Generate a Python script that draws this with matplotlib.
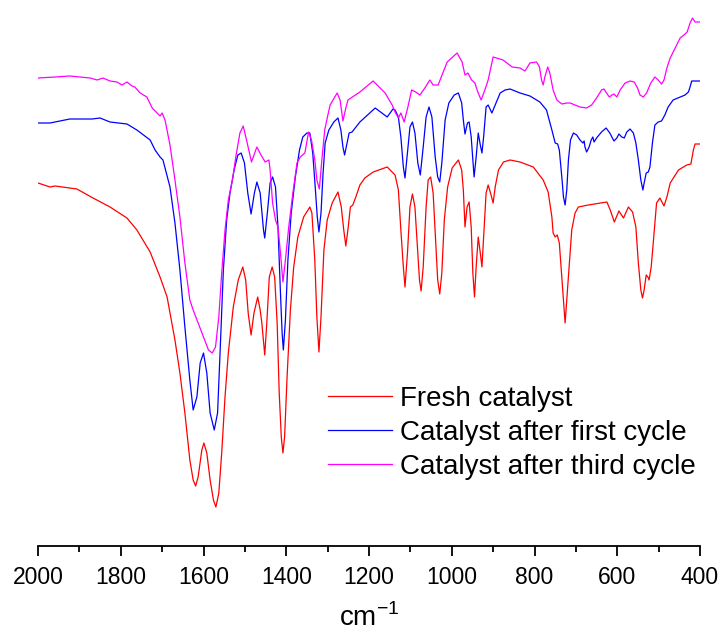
import numpy as np
import matplotlib
matplotlib.use("Agg")
import matplotlib.pyplot as plt
from matplotlib.ticker import MultipleLocator

plt.rcParams['font.family'] = ['Liberation Sans', 'DejaVu Sans']
plt.rcParams['mathtext.fontset'] = 'custom'
plt.rcParams['mathtext.rm'] = 'Liberation Sans'

# wavenumber (cm-1) and transmittance (arbitrary units)
fresh_wn = [2000, 1971, 1959, 1906, 1867, 1826, 1785, 1761, 1729, 1705, 1688, 1669,
            1657, 1645, 1633, 1625, 1619, 1613, 1604, 1599, 1592, 1584, 1576, 1570,
            1563, 1556, 1548, 1540, 1528, 1516, 1505, 1498, 1492, 1485, 1478, 1469,
            1463, 1459, 1452, 1447, 1441, 1434, 1428, 1422, 1417, 1412, 1408, 1404,
            1398, 1390, 1382, 1372, 1358, 1343, 1338, 1331, 1326, 1321, 1316, 1309,
            1301, 1289, 1275, 1267, 1261, 1256, 1251, 1245, 1239, 1231, 1222, 1210,
            1190, 1156, 1137, 1129, 1123, 1117, 1113, 1107, 1101, 1095, 1089, 1082,
            1078, 1074, 1069, 1062, 1057, 1051, 1045, 1039, 1034, 1029, 1024, 1018,
            1010, 999, 984, 976, 972, 968, 963, 958, 953, 949, 945, 941, 936, 931,
            927, 923, 917, 912, 905, 900, 895, 887, 875, 859, 835, 803, 779, 767,
            758, 755, 750, 745, 740, 734, 726, 718, 710, 702, 694, 670, 625, 617,
            607, 596, 585, 573, 563, 555, 549, 543, 539, 535, 530, 526, 523, 518,
            513, 505, 497, 487, 480, 472, 452, 432, 422, 416, 412, 400]
fresh_t = [363, 359, 360, 357, 348, 339, 328, 316, 294, 269, 249, 206,
           173, 133, 86, 66, 60, 69, 96, 103, 93, 66, 46, 39,
           53, 93, 149, 193, 239, 266, 279, 266, 233, 211, 233, 249,
           236, 223, 191, 223, 269, 279, 269, 223, 153, 109, 93, 109,
           169, 236, 279, 309, 329, 339, 333, 286, 229, 194, 229, 296,
           326, 343, 354, 339, 316, 300, 316, 339, 341, 350, 361, 368,
           374, 379, 371, 356, 316, 279, 259, 293, 339, 352, 339, 293,
           266, 255, 279, 339, 366, 369, 353, 306, 266, 252, 273, 326,
           359, 378, 386, 376, 356, 319, 339, 344, 319, 273, 249, 279, 309, 293,
           279, 309, 353, 361, 351, 343, 359, 376, 384, 386, 384, 379, 366, 354,
           329, 313, 309, 311, 303, 269, 223, 269, 316, 333, 339, 341, 344, 336,
           324, 335, 328, 339, 334, 319, 283, 256, 248, 256, 271, 269, 266, 279,
           303, 343, 348, 340, 349, 363, 376, 381, 382, 396, 402, 402]

first_wn = [2000, 1971, 1923, 1869, 1850, 1826, 1785, 1761, 1729, 1717, 1705, 1698,
            1681, 1669, 1657, 1645, 1633, 1625, 1616, 1608, 1600, 1592, 1584, 1574,
            1566, 1560, 1552, 1544, 1536, 1526, 1517, 1509, 1501, 1493, 1485, 1477,
            1471, 1463, 1455, 1452, 1445, 1439, 1433, 1426, 1420, 1414, 1410, 1407,
            1402, 1396, 1388, 1378, 1368, 1360, 1350, 1343, 1336, 1330, 1325, 1321,
            1316, 1311, 1306, 1297, 1285, 1275, 1268, 1263, 1259, 1253, 1248, 1241,
            1222, 1185, 1156, 1142, 1137, 1129, 1123, 1117, 1113, 1107, 1101, 1095,
            1089, 1082, 1076, 1069, 1062, 1055, 1048, 1040, 1034, 1029, 1024, 1016,
            1007, 994, 984, 976, 972, 968, 962, 958, 953, 949, 946, 941, 936, 931,
            927, 923, 917, 912, 903, 895, 883, 871, 859, 835, 811, 787, 771, 758,
            750, 744, 740, 734, 730, 726, 722, 718, 713, 706, 698, 690, 683, 680,
            678, 674, 668, 663, 659, 656, 650, 638, 627, 618, 608, 601, 596, 589,
            583, 577, 569, 561, 555, 549, 543, 538, 535, 530, 525, 521, 515, 509,
            501, 493, 485, 477, 465, 448, 436, 428, 424, 420, 400]
first_t = [423, 423, 427, 427, 428, 424, 422, 416, 406, 396, 389, 386,
           359, 323, 276, 219, 166, 136, 149, 183, 193, 173, 133, 116,
           133, 193, 276, 326, 353, 376, 391, 393, 383, 353, 332, 353,
           364, 353, 316, 308, 336, 363, 369, 359, 319, 253, 213, 196,
           226, 286, 333, 369, 396, 409, 413, 413, 393, 359, 329, 314,
           333, 373, 403, 416, 424, 428, 416, 399, 391, 403, 413, 414,
           424, 438, 429, 437, 436, 429, 409, 379, 368, 393, 419, 424,
           413, 383, 371, 399, 429, 439, 429, 389, 369, 364, 383, 426,
           443, 451, 453, 443, 426, 412, 423, 424, 409, 386, 369, 389, 413, 401,
           393, 409, 439, 441, 433, 441, 453, 456, 457, 453, 450, 444, 436, 416,
           403, 402, 396, 369, 349, 341, 356, 386, 406, 413, 411, 406, 403, 405,
           399, 394, 399, 406, 409, 404, 408, 414, 418, 413, 405, 408, 412, 409,
           408, 414, 417, 413, 403, 386, 366, 356, 363, 373, 374, 379, 403, 421,
           424, 425, 431, 439, 446, 449, 451, 454, 459, 465, 465]

third_wn = [2000, 1959, 1923, 1898, 1874, 1857, 1843, 1826, 1809, 1797, 1785, 1773,
            1766, 1753, 1737, 1724, 1712, 1705, 1700, 1693, 1681, 1669, 1657, 1645,
            1633, 1625, 1613, 1600, 1588, 1579, 1571, 1563, 1556, 1548, 1540, 1530,
            1522, 1512, 1504, 1496, 1484, 1471, 1461, 1451, 1442, 1439, 1433, 1426,
            1420, 1414, 1408, 1402, 1394, 1384, 1374, 1366, 1355, 1346, 1339, 1331,
            1326, 1320, 1314, 1307, 1301, 1294, 1287, 1277, 1270, 1263, 1256, 1251,
            1222, 1190, 1161, 1144, 1137, 1129, 1123, 1115, 1106, 1097, 1087, 1077,
            1065, 1053, 1045, 1033, 1011, 987, 975, 968, 961, 952, 944, 937, 929,
            920, 912, 900, 876, 854, 835, 823, 811, 795, 788, 783, 779, 775, 768,
            763, 755, 746, 734, 722, 714, 702, 690, 674, 662, 650, 638, 632, 626,
            619, 613, 608, 601, 593, 581, 569, 559, 551, 545, 537, 529, 519, 509,
            501, 493, 487, 480, 472, 460, 448, 436, 431, 424, 418, 412, 400]
third_t = [468, 469, 470, 469, 468, 466, 468, 465, 464, 461, 464, 460,
           459, 453, 449, 438, 433, 430, 433, 426, 401, 366, 329, 283,
           246, 236, 223, 209, 196, 193, 199, 229, 273, 316, 346, 366,
           389, 413, 420, 406, 384, 399, 391, 384, 386, 376, 343, 326,
           319, 293, 264, 286, 319, 353, 383, 389, 393, 414, 406, 386,
           366, 357, 386, 416, 428, 441, 446, 453, 446, 425, 438, 446,
           454, 465, 453, 441, 434, 428, 433, 424, 439, 456, 454, 451,
           458, 466, 461, 461, 484, 493, 484, 471, 473, 466, 463, 454, 446,
           456, 466, 489, 486, 479, 478, 475, 483, 484, 479, 466, 461, 469, 479,
           473, 456, 446, 442, 443, 443, 441, 439, 438, 441, 448, 456, 457, 453,
           449, 451, 452, 449, 456, 463, 465, 464, 458, 451, 449, 453, 463, 469,
           466, 462, 466, 478, 488, 498, 508, 512, 514, 523, 528, 524, 524]

labels = ['Fresh catalyst', 'Catalyst after first cycle', 'Catalyst after third cycle']
colors = ['#ff0000', '#0000ff', '#ff00ff']

fig = plt.figure(figsize=(7.24, 6.33), dpi=100)
fig.patch.set_facecolor('white')
ax = fig.add_axes([38 / 724, 87 / 633, 662 / 724, 546 / 633])

ax.plot(fresh_wn, fresh_t, color=colors[0], lw=0.9, label=labels[0])
ax.plot(first_wn, first_t, color=colors[1], lw=0.9, label=labels[1])
ax.plot(third_wn, third_t, color=colors[2], lw=0.9, label=labels[2])

ax.set_xlim(2000, 400)
ax.set_ylim(0, 546)

for s in ['top', 'left', 'right']:
    ax.spines[s].set_visible(False)
ax.spines['bottom'].set_linewidth(1.3)
ax.set_yticks([])
ax.xaxis.set_major_locator(MultipleLocator(200))
ax.xaxis.set_minor_locator(MultipleLocator(100))
ax.tick_params(axis='x', which='major', direction='out', length=7.5, width=1.3,
               labelsize=16.5, pad=7)
ax.tick_params(axis='x', which='minor', direction='out', length=4, width=1.3)

ax.set_xlabel(r'cm$^{\mathregular{-1}}$', fontsize=20, labelpad=10)

ax.legend(loc='upper left', bbox_to_anchor=(328 / 724, 1 - 386 / 633),
          bbox_transform=fig.transFigure, frameon=False, fontsize=20,
          handlelength=2.3, handletextpad=0.3, labelspacing=0.29, borderpad=0,
          borderaxespad=0)

fig.savefig('out.png', dpi=100)
